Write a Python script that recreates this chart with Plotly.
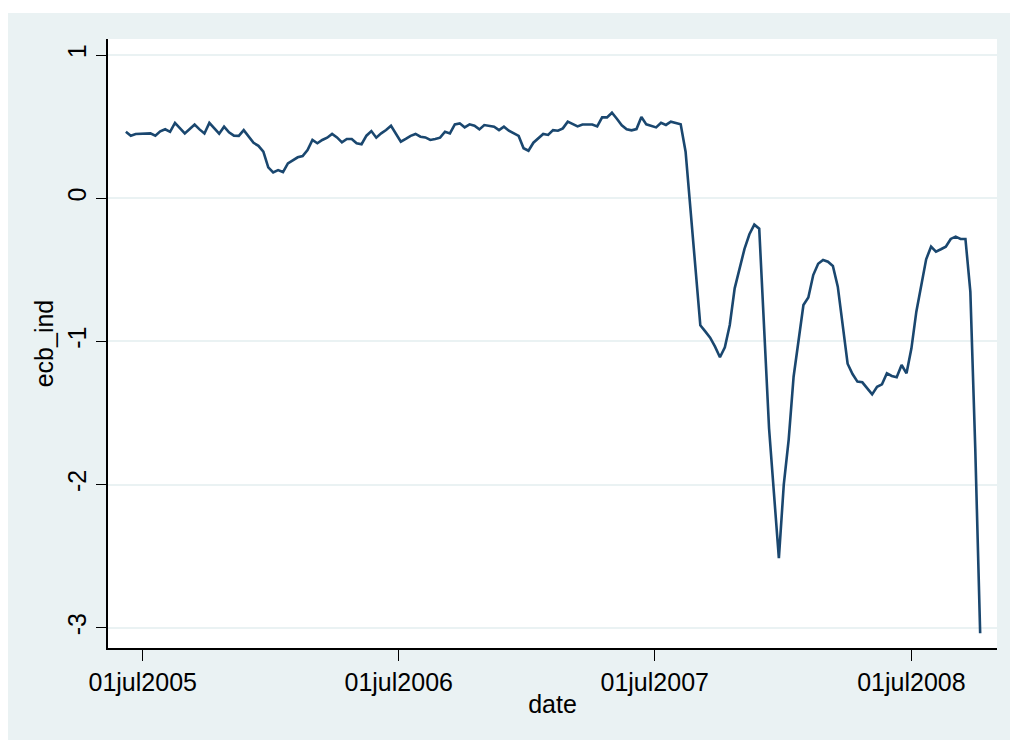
import pandas as pd
import plotly.graph_objects as go

# Weekly ECB indicator series, starting 7 June 2005
start_date = "2005-06-07"
ecb_ind = [
    0.465, 0.437, 0.449, 0.449, 0.449, 0.453, 0.437, 0.467, 0.482, 0.464,
    0.526, 0.488, 0.453, 0.483, 0.514, 0.481, 0.452, 0.526, 0.490, 0.451,
    0.500, 0.460, 0.437, 0.436, 0.476, 0.430, 0.387, 0.366, 0.326, 0.216,
    0.181, 0.197, 0.183, 0.244, 0.267, 0.286, 0.295, 0.337, 0.407, 0.384,
    0.407, 0.423, 0.449, 0.425, 0.390, 0.414, 0.414, 0.384, 0.377, 0.437,
    0.469, 0.423, 0.453, 0.476, 0.506, 0.453, 0.395, 0.415, 0.436, 0.449,
    0.430, 0.425, 0.407, 0.414, 0.423, 0.465, 0.453, 0.516, 0.523, 0.495,
    0.516, 0.506, 0.481, 0.511, 0.504, 0.500, 0.476, 0.500, 0.472, 0.453,
    0.435, 0.349, 0.332, 0.388, 0.418, 0.449, 0.442, 0.476, 0.472, 0.488,
    0.535, 0.520, 0.502, 0.515, 0.515, 0.515, 0.502, 0.565, 0.565, 0.597,
    0.555, 0.510, 0.482, 0.474, 0.483, 0.568, 0.516, 0.505, 0.495, 0.527,
    0.512, 0.535, 0.525, 0.516, 0.325, -0.075, -0.513, -0.887, -0.929, -0.973,
    -1.036, -1.110, -1.041, -0.885, -0.629, -0.485, -0.353, -0.251, -0.184, -0.212,
    -0.966, -1.606, -2.060, -2.513, -2.000, -1.685, -1.246, -0.975, -0.745, -0.693,
    -0.536, -0.457, -0.431, -0.443, -0.473, -0.617, -0.908, -1.155, -1.227, -1.280,
    -1.285, -1.327, -1.369, -1.316, -1.299, -1.222, -1.241, -1.250, -1.164, -1.222,
    -1.048, -0.792, -0.606, -0.426, -0.338, -0.373, -0.356, -0.338, -0.284, -0.268,
    -0.284, -0.284, -0.652, -1.746, -3.037,
]
dates = pd.date_range(start=start_date, periods=len(ecb_ind), freq="7D")

x_tick_vals = ["2005-07-01", "2006-07-01", "2007-07-01", "2008-07-01"]
x_tick_text = ["01jul2005", "01jul2006", "01jul2007", "01jul2008"]
y_tick_vals = [1, 0, -1, -2, -3]
y_tick_text = ["1", "0", "-1", "-2", "-3"]

LINE = "#1a476f"
BG = "#eaf2f3"
GRID = "#eaf2f3"
FONT = "Liberation Sans, Arial, sans-serif"

fig = go.Figure()
fig.add_trace(go.Scatter(
    x=dates, y=ecb_ind, mode="lines",
    line=dict(color=LINE, width=2.6),
    showlegend=False,
))

W, H = 1010, 740
L, R, T, B = 108, 13, 39, 92
pw, ph = W - L - R, H - T - B

def px_x(p):
    return (p - L) / pw

def px_y(p):
    return (H - B - p) / ph

# white strips along the top and left edges of the page
fig.add_shape(type="rect", xref="paper", yref="paper",
              x0=px_x(-5), x1=px_x(W + 5), y0=px_y(13), y1=px_y(-5),
              fillcolor="white", line=dict(width=0), layer="above")
fig.add_shape(type="rect", xref="paper", yref="paper",
              x0=px_x(-5), x1=px_x(8), y0=px_y(H + 5), y1=px_y(-5),
              fillcolor="white", line=dict(width=0), layer="above")

fig.update_layout(
    width=W, height=H,
    margin=dict(l=L, r=R, t=T, b=B, pad=0),
    paper_bgcolor=BG, plot_bgcolor="white",
    font=dict(family=FONT, size=25, color="black"),
    xaxis=dict(
        range=["2005-05-12 12:00", "2008-10-31"],
        tickvals=x_tick_vals, ticktext=x_tick_text,
        ticks="outside", ticklen=11, tickwidth=1.3, tickcolor="black",
        showline=True, linecolor="black", linewidth=1.5,
        showgrid=False, zeroline=False,
        title=dict(text="date", standoff=1, font=dict(size=25)),
        tickfont=dict(size=25),
    ),
    yaxis=dict(
        range=[-3.14, 1.112],
        tickvals=y_tick_vals, ticktext=y_tick_text, tickangle=-90,
        ticks="outside", ticklen=10, tickwidth=1.3, tickcolor="black",
        showline=True, linecolor="black", linewidth=1.5,
        showgrid=True, gridcolor=GRID, gridwidth=2, zeroline=False,
        title=dict(text="ecb_ind", standoff=3, font=dict(size=25)),
        tickfont=dict(size=25),
    ),
)

fig.write_html("out.html")
